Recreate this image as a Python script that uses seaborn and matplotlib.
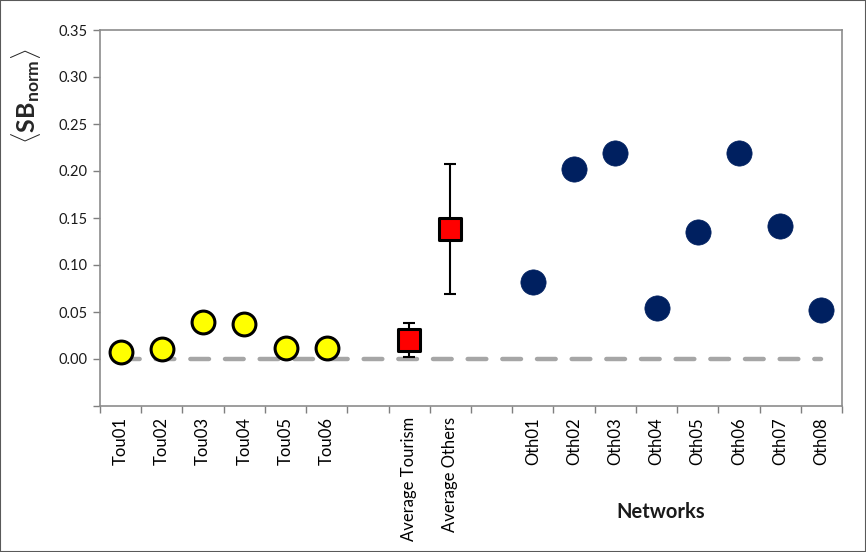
import numpy as np
import pandas as pd
import matplotlib
matplotlib.use("Agg")
import matplotlib.pyplot as plt
import seaborn as sns
from matplotlib.patches import Rectangle
from matplotlib.ticker import FixedLocator, MultipleLocator

# ---- data ----
categories = ["Tou01", "Tou02", "Tou03", "Tou04", "Tou05", "Tou06", " ",
              "Average Tourism", "Average Others", "  ",
              "Oth01", "Oth02", "Oth03", "Oth04", "Oth05", "Oth06", "Oth07", "Oth08"]
tourism_names = ["Tou01", "Tou02", "Tou03", "Tou04", "Tou05", "Tou06"]
tourism_values = [0.0075, 0.0105, 0.039, 0.037, 0.0115, 0.0115]
average_names = ["Average Tourism", "Average Others"]
average_values = [0.020, 0.138]
average_errors = [0.018, 0.069]
others_names = ["Oth01", "Oth02", "Oth03", "Oth04", "Oth05", "Oth06", "Oth07", "Oth08"]
others_values = [0.082, 0.202, 0.219, 0.054, 0.135, 0.219, 0.141, 0.052]

pos = {c: i for i, c in enumerate(categories)}
df_tou = pd.DataFrame({"cat": tourism_names, "val": tourism_values})
df_tou["x"] = df_tou["cat"].map(pos)
df_avg = pd.DataFrame({"cat": average_names, "val": average_values, "err": average_errors})
df_avg["x"] = df_avg["cat"].map(pos)
df_oth = pd.DataFrame({"cat": others_names, "val": others_values})
df_oth["x"] = df_oth["cat"].map(pos)
df_zero = pd.DataFrame({"x": [pos[c] for c in categories], "val": [0.0] * len(categories)})

sns.set_theme(style="white")
plt.rcParams["font.family"] = ["Lato", "DejaVu Sans"]
plt.rcParams["mathtext.fontset"] = "custom"
plt.rcParams["mathtext.rm"] = "Lato"
plt.rcParams["mathtext.bf"] = "Lato:bold"

fig = plt.figure(figsize=(8.66, 5.52), dpi=100)
ax = fig.add_axes([100 / 866, 146 / 552, 742 / 866, 376 / 552])

# zero reference line
sns.lineplot(data=df_zero, x="x", y="val", ax=ax, sort=False, estimator=None,
             color="#a6a6a6", linewidth=3.2, dashes=False, zorder=1)
ax.lines[-1].set_dashes([4.2, 3.6])
ax.lines[-1].set_dash_capstyle("round")

# tourism networks
sns.scatterplot(data=df_tou, x="x", y="val", ax=ax, marker="o", s=270,
                color="#ffff00", edgecolor="black", linewidth=2.2, zorder=3)
# averages with error bars
ax.errorbar(df_avg["x"], df_avg["val"], yerr=df_avg["err"], fmt="none",
            ecolor="black", elinewidth=1.5, capsize=4.5, capthick=1.5, zorder=2)
sns.scatterplot(data=df_avg, x="x", y="val", ax=ax, marker="s", s=250,
                color="#ff0000", edgecolor="black", linewidth=2.2, zorder=3)
# other networks
sns.scatterplot(data=df_oth, x="x", y="val", ax=ax, marker="o", s=330,
                color="#002060", edgecolor="#002060", linewidth=0.5, zorder=3)

ax.set_xlim(-0.5, len(categories) - 0.5)
ax.set_ylim(-0.05, 0.35)
ax.yaxis.set_major_locator(MultipleLocator(0.05))
ax.set_yticklabels([f"{v:.2f}" if v >= -1e-9 else "" for v in ax.get_yticks()])
ax.set_xticks(range(len(categories)))
ax.set_xticklabels(categories, rotation=90, fontsize=12, color="black")
ax.xaxis.set_minor_locator(FixedLocator(np.arange(-0.5, len(categories), 1.0)))
ax.tick_params(axis="x", which="major", length=0, pad=8)
ax.tick_params(axis="x", which="minor", length=5, width=1, color="#7f7f7f", direction="out", bottom=True)
ax.tick_params(axis="y", which="major", length=5, width=1, color="#7f7f7f", direction="out",
               left=True, labelsize=10.5, labelcolor="#1a1a1a", pad=4)
for sp in ax.spines.values():
    sp.set_color("#8c8c8c")
    sp.set_linewidth(1.2)

ax.set_xlabel("")
ax.set_ylabel(r"$\langle\mathbf{SB}_{\mathbf{norm}}\rangle$", fontsize=18)
ax.yaxis.set_label_coords(-57 / 742, (406 - 96) / 376)
fig.text(661 / 866, 1 - 512 / 552, "Networks", fontsize=14.5, fontweight="bold",
         ha="center", va="center", color="#1a1a1a")

# outer border
fig.patches.append(Rectangle((0, 0), 1, 1, transform=fig.transFigure, fill=False,
                             edgecolor="#595959", linewidth=1.5))

fig.savefig("out.png", dpi=100)
